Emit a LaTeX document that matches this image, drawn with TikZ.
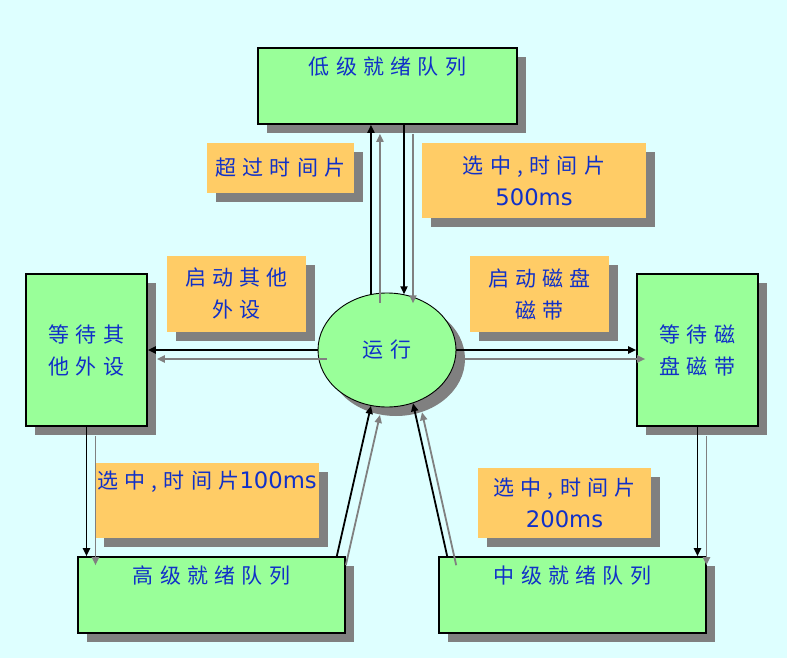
\documentclass[tikz,border=0pt]{standalone}
\usepackage{fontspec}
\newfontfamily\cjk[LetterSpace=30]{Noto Sans CJK SC}
\newfontfamily\lat[Scale=1.08]{DejaVu Sans}
\usetikzlibrary{arrows.meta,shadows,shapes.geometric}
\definecolor{bgcyan}{RGB}{222,255,255}
\definecolor{boxgreen}{RGB}{153,255,153}
\definecolor{tagorange}{RGB}{255,204,102}
\definecolor{inkblue}{RGB}{16,48,200}
\definecolor{shadegray}{RGB}{128,128,128}

\begin{document}
\begin{tikzpicture}[x=1pt,y=-1pt,
    every node/.style={inner sep=0pt, text=inkblue, align=center,
      font=\cjk\fontsize{21}{32}\selectfont},
    shade/.style={drop shadow={shadow xshift=9pt, shadow yshift=-9pt,
      fill=shadegray, opacity=1}},
    queue/.style={rectangle, draw, line width=1.6pt, fill=boxgreen, shade},
    tag/.style={rectangle, fill=tagorange, shade},
    link/.style={line width=1.8pt, -{Triangle[length=8pt,width=7pt]},
      preaction={draw=shadegray, line width=1.8pt,
        transform canvas={xshift=9pt,yshift=-9pt}}}]
  \fill[bgcyan] (0,0) rectangle (787,658);
  \useasboundingbox (0,0) rectangle (787,658);

  % Labels
  \node[tag, minimum width=147pt, minimum height=50pt] (over) at (280.5,168) {超过时间片};
  \node[tag, minimum width=224pt, minimum height=75pt] (pick500) at (534,180.5) {选中,时间片\\{\lat 500ms}};
  \node[tag, minimum width=139pt, minimum height=76pt] (other) at (236.5,294) {启动其他\\外设};
  \node[tag, minimum width=139pt, minimum height=76pt] (disk) at (539.5,294) {启动磁盘\\磁带};
  \node[tag, minimum width=224pt, minimum height=75pt] (pick100) at (207,500.5) {选中,时间片{\lat 100ms}\\\strut};
  \node[tag, minimum width=173pt, minimum height=70pt] (pick200) at (564.5,503) {选中,时间片\\{\lat 200ms}};

  % Queues and waiting boxes
  \node[queue, minimum width=259pt, minimum height=76pt] (low) at (387.5,86) {低级就绪队列\\\strut};
  \node[queue, minimum width=121pt, minimum height=152pt] (wait1) at (86.5,350) {等待其\\他外设};
  \node[queue, minimum width=121pt, minimum height=152pt] (wait2) at (697.5,350) {等待磁\\盘磁带};
  \node[queue, minimum width=267pt, minimum height=76pt] (high) at (211.5,595) {高级就绪队列\\\strut};
  \node[queue, minimum width=267pt, minimum height=76pt] (mid) at (572.5,595) {中级就绪队列\\\strut};
  \node[ellipse, draw, line width=0.9pt, fill=boxgreen, shade,
    minimum width=138pt, minimum height=114pt] (run) at (387,350) {运行};

  % Transitions
  \draw[link] (run.106) -- (run.106 |- low.south);
  \draw[link] (low.south -| run.73) -- (run.73);
  \draw[link] (run.west) -- (run.west -| wait1.east);
  \draw[link] (run.east) -- (run.east -| wait2.west);
  \draw[link] (wait1.south) -- (wait1.south |- high.north);
  \draw[link] (wait2.south) -- (wait2.south |- mid.north);
  \draw[link] ([xshift=-9pt]high.north east) -- (run.254);
  \draw[link] ([xshift=9pt]mid.north west) -- (run.296);
\end{tikzpicture}
\end{document}
